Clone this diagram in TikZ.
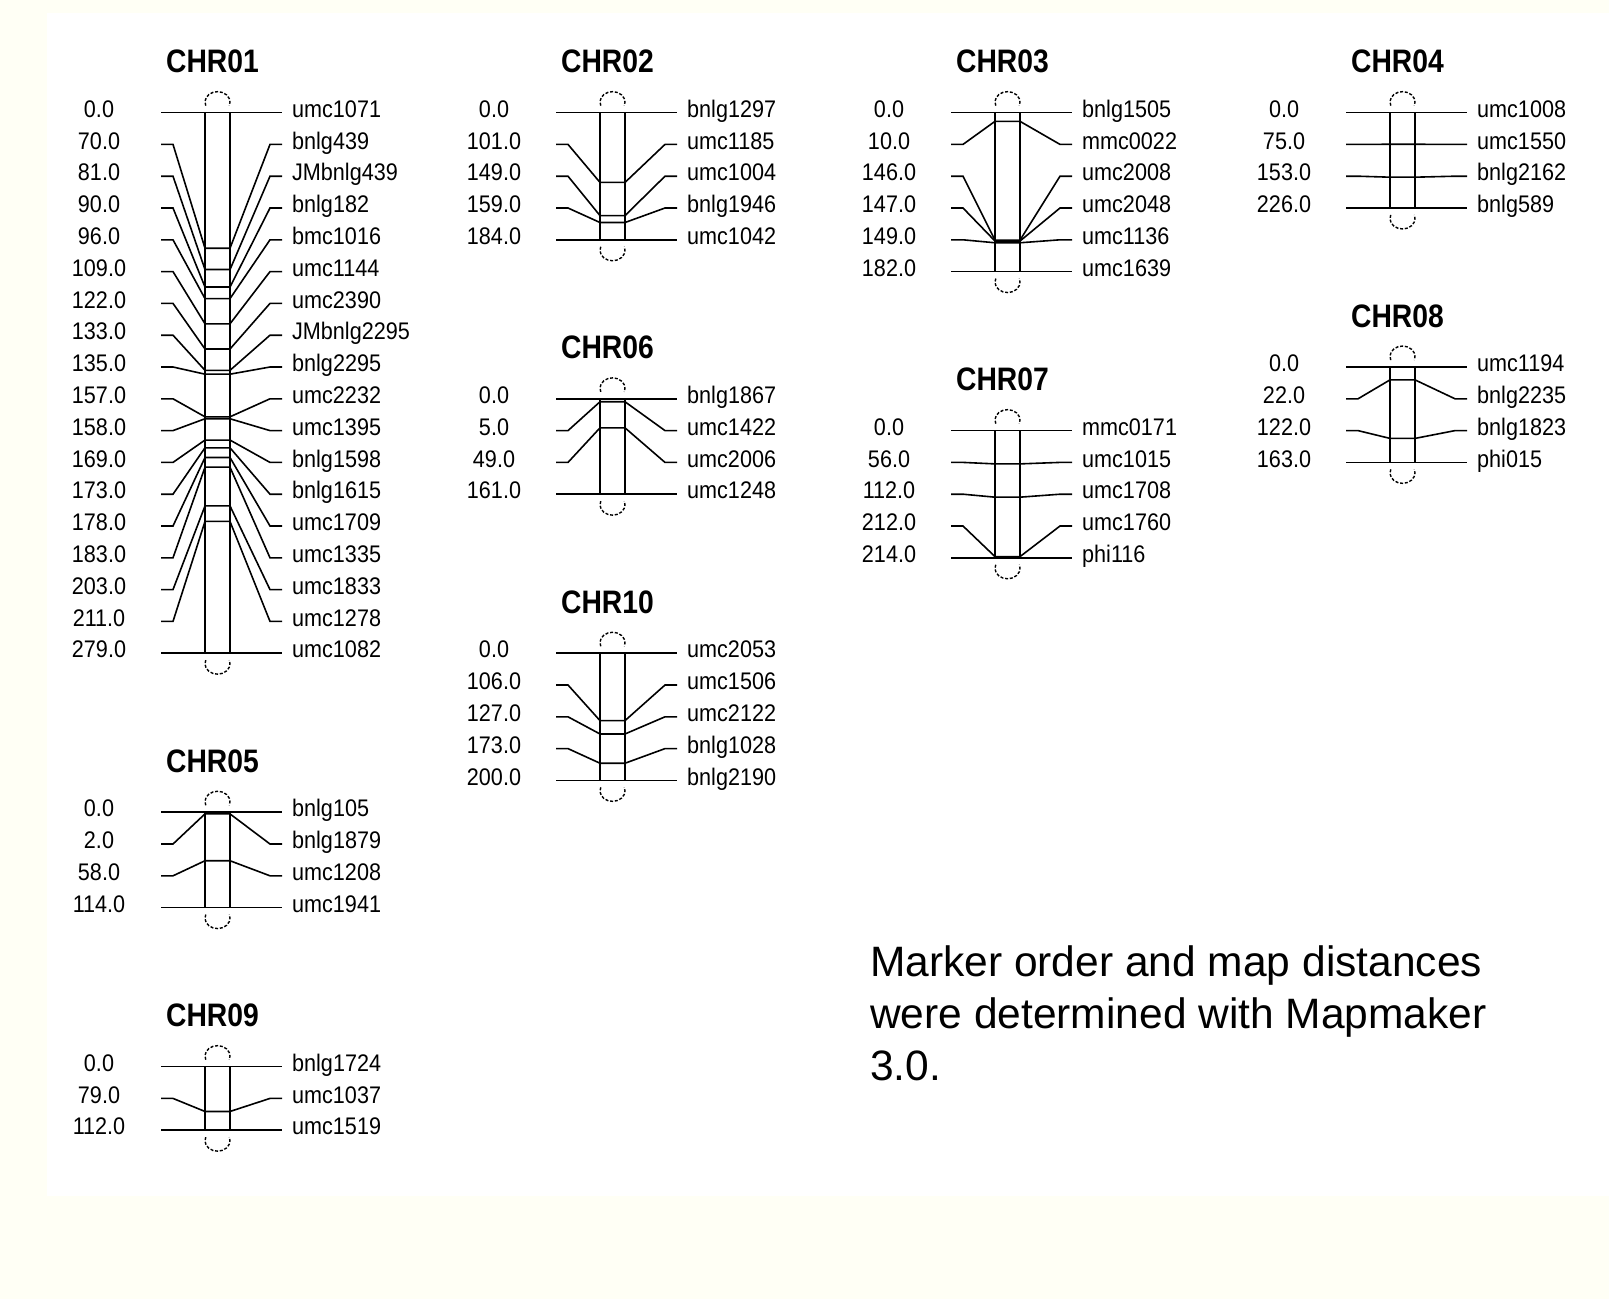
\documentclass[tikz,border=0pt]{standalone}
\usepackage{fontspec}
\setmainfont{Liberation Sans}
\definecolor{cream}{RGB}{255,255,245}
\tikzset{
  chrline/.style={line width=1.6pt},
  capline/.style={line width=1.4pt, dash pattern=on 3pt off 1.8pt},
  titletext/.style={font=\fontsize{32.5}{36}\selectfont\bfseries, xscale=0.87, anchor=base, inner sep=0pt},
  disttext/.style={font=\fontsize{24}{28}\selectfont, xscale=0.9, anchor=base, inner sep=0pt},
  marktext/.style={font=\fontsize{24}{28}\selectfont, xscale=0.9, anchor=base west, inner sep=0pt},
  notetext/.style={font=\fontsize{42.5}{50}\selectfont, anchor=base west, inner sep=0pt},
}
% #1 left x, #2 first row, #3 title, #4 number of markers, #5 length (cM), #6 list cM/label
\newcommand{\chromosome}[6]{%
  \pgfmathsetmacro\topy{112.6+31.8*#2}%
  \pgfmathsetmacro\boty{\topy+31.8*(#4-1)}%
  \node[titletext] (#3) at (#1+51.5,\topy-40) {#3};
  \draw[chrline] (#1+44,\topy) rectangle (#1+69,\boty);
  \draw[capline] (#1+56.5-11.75,\topy-10.5+3.59) arc[start angle=160,end angle=380,x radius=12.5,y radius=10.5];
  \draw[capline] (#1+56.5-11.75,\boty+10.5-3.59) arc[start angle=200,end angle=-20,x radius=12.5,y radius=10.5];
  \foreach \cmv/\labv [count=\idx from 0] in {#6}{
    \pgfmathsetmacro\ry{\topy+31.8*\idx}
    \pgfmathsetmacro\py{\topy+\cmv/#5*31.8*(#4-1)}
    \draw[chrline] (#1,\ry) -- (#1+12,\ry) -- (#1+44,\py) -- (#1+69,\py) -- (#1+109,\ry) -- (#1+121,\ry);
    \node[disttext] (#3-d\idx) at (#1-62,\ry+4.7) {\cmv};
    \node[marktext] (#3-m\idx) at (#1+131,\ry+4.7) {\labv};
  }%
}
\begin{document}
\begin{tikzpicture}[x=1pt,y=-1pt]
\useasboundingbox (0,0) rectangle (1609,1299);
\fill[cream] (0,0) rectangle (1609,1299);
\fill[white] (47,13) rectangle (1609,1196);

\chromosome{161}{0}{CHR01}{18}{279.0}{0.0/umc1071, 70.0/bnlg439, 81.0/JMbnlg439, 90.0/bnlg182, 96.0/bmc1016, 109.0/umc1144, 122.0/umc2390, 133.0/JMbnlg2295, 135.0/bnlg2295, 157.0/umc2232, 158.0/umc1395, 169.0/bnlg1598, 173.0/bnlg1615, 178.0/umc1709, 183.0/umc1335, 203.0/umc1833, 211.0/umc1278, 279.0/umc1082}
\chromosome{556}{0}{CHR02}{5}{184.0}{0.0/bnlg1297, 101.0/umc1185, 149.0/umc1004, 159.0/bnlg1946, 184.0/umc1042}
\chromosome{951}{0}{CHR03}{6}{182.0}{0.0/bnlg1505, 10.0/mmc0022, 146.0/umc2008, 147.0/umc2048, 149.0/umc1136, 182.0/umc1639}
\chromosome{1346}{0}{CHR04}{4}{226.0}{0.0/umc1008, 75.0/umc1550, 153.0/bnlg2162, 226.0/bnlg589}
\chromosome{161}{22}{CHR05}{4}{114.0}{0.0/bnlg105, 2.0/bnlg1879, 58.0/umc1208, 114.0/umc1941}
\chromosome{556}{9}{CHR06}{4}{161.0}{0.0/bnlg1867, 5.0/umc1422, 49.0/umc2006, 161.0/umc1248}
\chromosome{951}{10}{CHR07}{5}{214.0}{0.0/mmc0171, 56.0/umc1015, 112.0/umc1708, 212.0/umc1760, 214.0/phi116}
\chromosome{1346}{8}{CHR08}{4}{163.0}{0.0/umc1194, 22.0/bnlg2235, 122.0/bnlg1823, 163.0/phi015}
\chromosome{161}{30}{CHR09}{3}{112.0}{0.0/bnlg1724, 79.0/umc1037, 112.0/umc1519}
\chromosome{556}{17}{CHR10}{5}{200.0}{0.0/umc2053, 106.0/umc1506, 127.0/umc2122, 173.0/bnlg1028, 200.0/bnlg2190}

\node[notetext] (note1) at (870,976) {Marker order and map distances};
\node[notetext] (note2) at (870,1028) {were determined with Mapmaker};
\node[notetext] (note3) at (870,1080) {3.0.};
\end{tikzpicture}
\end{document}
